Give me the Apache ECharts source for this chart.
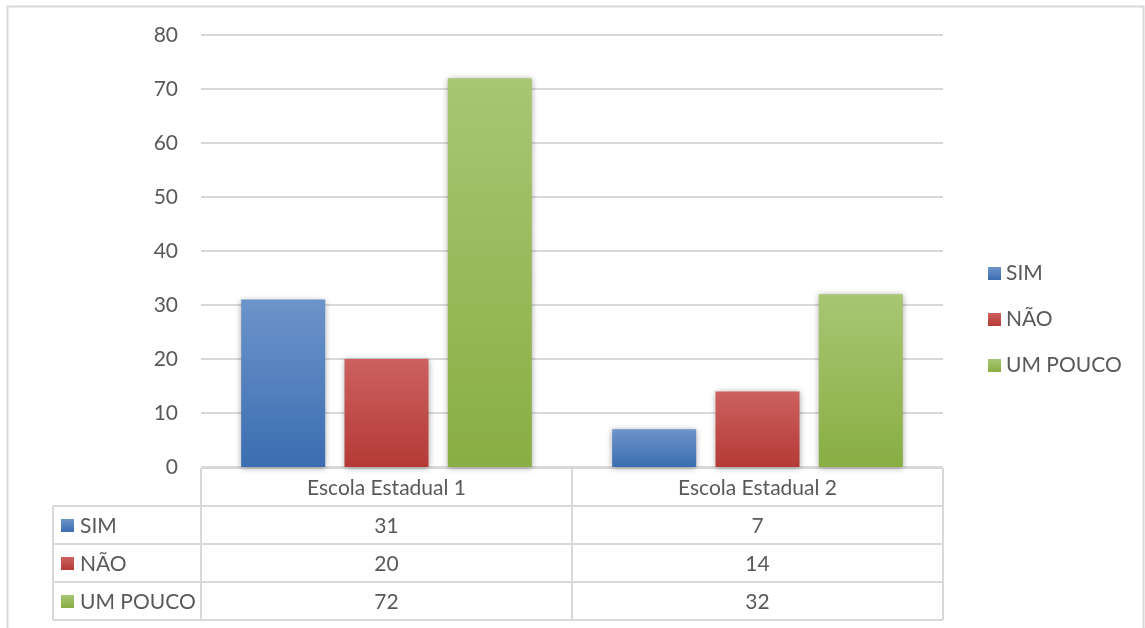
<!DOCTYPE html>
<html>
<head>
<meta charset="utf-8">
<script src="https://cdn.jsdelivr.net/npm/echarts@6/dist/echarts.min.js"></script>
<style>
html,body{margin:0;padding:0;background:#fff;}
#chart{width:1145px;height:628px;}
</style>
</head>
<body>
<div id="chart"></div>
<script>
const categories = ['Escola Estadual 1', 'Escola Estadual 2'];
const seriesNames = ['SIM', 'NÃO', 'UM POUCO'];
const simValues = [31, 7];
const naoValues = [20, 14];
const umPoucoValues = [72, 32];
const yTicks = [0, 10, 20, 30, 40, 50, 60, 70, 80];

const FONT = 'Lato, "Open Sans", sans-serif';
const FS = 21;
const TXT = '#595959';
const LINE = '#d9d9d9';
const gradients = [
  ['#6d94ca', '#3b6db1'],
  ['#cc615f', '#b43a37'],
  ['#a8c673', '#89ae43']
];
const allValues = [simValues, naoValues, umPoucoValues];

const gridLeft = 201, gridRight = 943, gridTop = 35, gridBottom = 467;
const rowH = 38;

const chart = echarts.init(document.getElementById('chart'), null, {renderer: 'canvas'});

function grad(c) {
  return new echarts.graphic.LinearGradient(0, 0, 0, 1, [
    {offset: 0, color: c[0]}, {offset: 1, color: c[1]}
  ]);
}

const series = seriesNames.map((name, i) => ({
  name: name,
  type: 'bar',
  data: allValues[i],
  barWidth: 84,
  barGap: '23%',
  itemStyle: {
    color: grad(gradients[i]),
    shadowBlur: 6,
    shadowColor: 'rgba(0,0,0,0.35)',
    shadowOffsetY: 1
  },
  emphasis: {disabled: true}
}));

const graphics = [];
graphics.push({type: 'rect', shape: {x: 7.5, y: 6.5, width: 1136, height: 640}, style: {fill: 'none', stroke: LINE, lineWidth: 2}, silent: true});
const band = (gridRight - gridLeft) / categories.length;
const tTop = gridBottom + 1;
const tBottom = tTop + rowH * (seriesNames.length + 1);
const lineStyle = {stroke: LINE, lineWidth: 2};
function hline(x1, x2, y) { graphics.push({type: 'line', shape: {x1, y1: y, x2, y2: y}, style: lineStyle, silent: true}); }
function vline(x, y1, y2) { graphics.push({type: 'line', shape: {x1: x, y1, x2: x, y2}, style: lineStyle, silent: true}); }
hline(gridLeft, gridRight, tTop);
for (let r = 1; r <= seriesNames.length + 1; r++) hline(53, gridRight, tTop + r * rowH);
vline(53, tTop + rowH, tBottom);
for (let c = 0; c <= categories.length; c++) vline(gridLeft + c * band, tTop, tBottom);
categories.forEach((cat, c) => {
  graphics.push({type: 'text', x: gridLeft + (c + 0.5) * band, y: tTop + rowH / 2 + 1,
    style: {text: cat, fill: TXT, font: FS + 'px ' + FONT, align: 'center', verticalAlign: 'middle'}, silent: true});
});
seriesNames.forEach((name, r) => {
  const cy = tTop + (r + 1.5) * rowH;
  graphics.push({type: 'rect', shape: {x: 61, y: cy - 6, width: 13, height: 13}, style: {fill: grad(gradients[r])}, silent: true});
  graphics.push({type: 'text', x: 80, y: cy + 1, style: {text: name, fill: TXT, font: FS + 'px ' + FONT, align: 'left', verticalAlign: 'middle'}, silent: true});
  allValues[r].forEach((v, c) => {
    graphics.push({type: 'text', x: gridLeft + (c + 0.5) * band, y: cy + 1,
      style: {text: String(v), fill: TXT, font: FS + 'px ' + FONT, align: 'center', verticalAlign: 'middle'}, silent: true});
  });
});

chart.setOption({
  backgroundColor: '#fff',
  animation: false,
  textStyle: {fontFamily: FONT},
  grid: {left: gridLeft, right: 1145 - gridRight, top: gridTop, bottom: 628 - gridBottom, containLabel: false},
  legend: {
    orient: 'vertical', left: 983, top: 258, itemWidth: 13, itemHeight: 13, itemGap: 25,
    icon: 'rect', data: seriesNames,
    textStyle: {color: TXT, fontSize: FS, fontFamily: FONT}
  },
  xAxis: {
    type: 'category', data: categories,
    axisLine: {show: false}, axisTick: {show: false}, axisLabel: {show: false}
  },
  yAxis: {
    type: 'value', min: yTicks[0], max: yTicks[yTicks.length - 1], interval: 10,
    axisLine: {show: false}, axisTick: {show: false},
    axisLabel: {color: TXT, fontSize: FS, fontFamily: FONT, margin: 23},
    splitLine: {lineStyle: {color: LINE, width: 2}}
  },
  series: series,
  graphic: graphics
});
</script>
</body>
</html>
